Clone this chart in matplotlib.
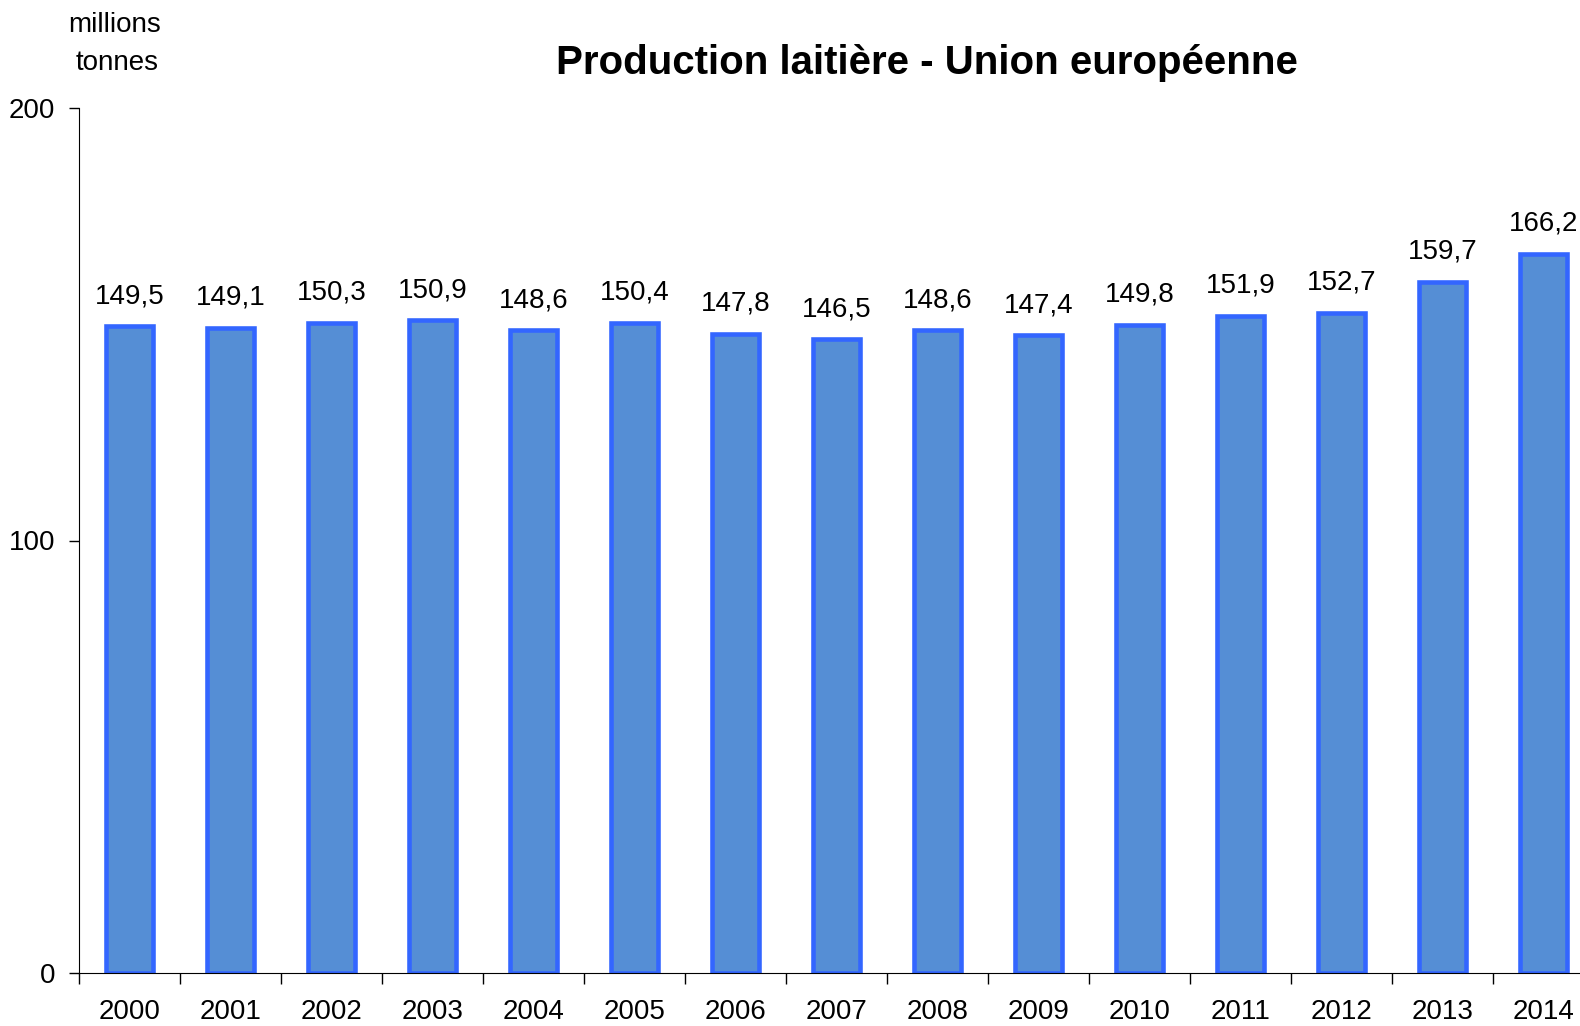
import matplotlib.pyplot as plt
import numpy as np

plt.rcParams['font.family'] = ['Liberation Sans', 'DejaVu Sans']

## data ##
years = ["2000", "2001", "2002", "2003", "2004", "2005", "2006", "2007",
         "2008", "2009", "2010", "2011", "2012", "2013", "2014"]
production = [149.5, 149.1, 150.3, 150.9, 148.6, 150.4, 147.8, 146.5,
              148.6, 147.4, 149.8, 151.9, 152.7, 159.7, 166.2]

fig = plt.figure(figsize=(15.8, 10.26), dpi=100)
ax = fig.add_axes([79 / 1580, 53 / 1026, 1515 / 1580, 865 / 1026])

x = np.arange(len(years))
bars = ax.bar(x, production, width=0.46, color='#558ED5',
              edgecolor='#3366FF', linewidth=3.3)

# value labels (decimal comma) #
for xi, v in zip(x, production):
    ax.text(xi, v + 4.0, ("%.1f" % v).replace('.', ','),
            ha='center', va='bottom', fontsize=20)

ax.set_xlim(-0.5, len(years) - 0.5)
ax.set_ylim(0, 200)
ax.set_yticks([0, 100, 200])
ax.tick_params(axis='y', labelsize=20, length=7, pad=10, width=1)

# ticks between categories, labels under bars #
ax.set_xticks(np.arange(-0.5, len(years), 1.0))
ax.set_xticklabels([])
ax.tick_params(axis='x', which='major', length=8, width=1, direction='out')
ax.set_xticks(x, minor=True)
ax.set_xticklabels(years, minor=True)
ax.tick_params(axis='x', which='minor', length=0, labelsize=20, pad=19)

for s in ['top', 'right']:
    ax.spines[s].set_visible(False)

fig.text(115 / 1580, 1 - 25 / 1026, "millions", ha='center', va='center', fontsize=20)
fig.text(117 / 1580, 1 - 63 / 1026, "tonnes", ha='center', va='center', fontsize=20)
fig.text(927 / 1580, 1 - 63 / 1026, "Production laitière - Union européenne",
         ha='center', va='center', fontsize=29, fontweight='bold')

plt.savefig("out.png", dpi=100)
